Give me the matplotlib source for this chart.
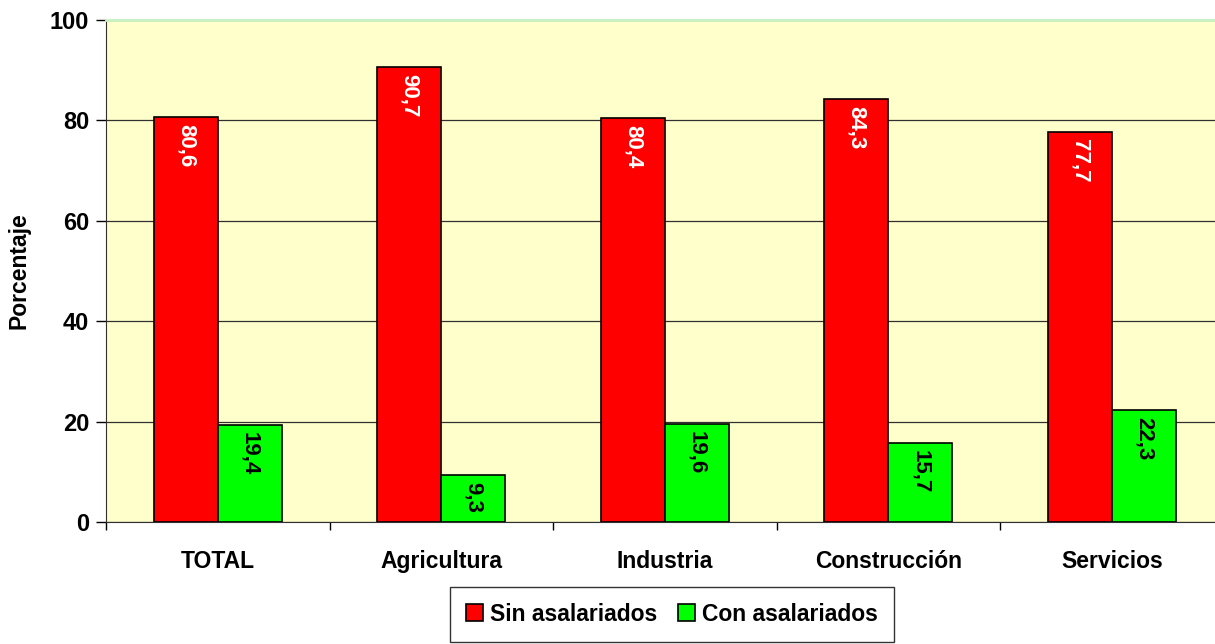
import numpy as np
import matplotlib
matplotlib.use("Agg")
import matplotlib.pyplot as plt

plt.rcParams["font.family"] = ["Liberation Sans", "DejaVu Sans"]
plt.rcParams["font.weight"] = "bold"

categories = ["TOTAL", "Agricultura", "Industria", "Construcción", "Servicios"]
sin_asal = [80.6, 90.7, 80.4, 84.3, 77.7]
con_asal = [19.4, 9.3, 19.6, 15.7, 22.3]
yticks = [0, 20, 40, 60, 80, 100]

fig = plt.figure(figsize=(12.15, 6.44), dpi=100)
ax = fig.add_axes([0.0872, 0.1894, 0.920, 0.7795])
ax.set_facecolor("#FFFFCC")

x = np.arange(len(categories))
w = 0.286
b1 = ax.bar(x - w / 2, sin_asal, w, color="#FF0000", edgecolor="black", linewidth=1.2,
            label="Sin asalariados", zorder=3)
b2 = ax.bar(x + w / 2, con_asal, w, color="#00FF00", edgecolor="black", linewidth=1.2,
            label="Con asalariados", zorder=3)

# value labels, rotated, inside top of bar
for xi, v in zip(x - w / 2, sin_asal):
    ax.annotate(f"{v:.1f}".replace(".", ","), (xi, v), xytext=(0, -5), textcoords="offset points",
                rotation=270, ha="center", va="top", color="white", fontsize=16,
                fontweight="bold", zorder=4)
for xi, v in zip(x + w / 2, con_asal):
    ax.annotate(f"{v:.1f}".replace(".", ","), (xi, v), xytext=(0, -5), textcoords="offset points",
                rotation=270, ha="center", va="top", color="black", fontsize=16,
                fontweight="bold", zorder=4)

ax.set_xlim(-0.5, len(categories) - 0.5)
ax.set_ylim(0, 100)
ax.set_yticks(yticks)
ax.set_yticklabels([str(t) for t in yticks], fontsize=17, fontweight="bold")
ax.yaxis.grid(True, color="#303030", linewidth=0.9, zorder=0)
ax.set_axisbelow(True)

ax.set_xticks(x)
ax.set_xticklabels(categories, fontsize=16.5, fontweight="bold")
ax.set_xticks(np.arange(-0.5, len(categories), 1.0), minor=True)
ax.tick_params(axis="x", which="major", length=0, pad=20)
ax.tick_params(axis="x", which="minor", length=6, width=1, direction="out")
ax.tick_params(axis="y", length=7, width=1, direction="out", pad=5)

ax.set_ylabel("Porcentaje", fontsize=16.5, fontweight="bold", labelpad=14)

ax.spines["left"].set_color("#303030")
ax.spines["bottom"].set_color("#303030")
ax.spines["top"].set_color("#C8F0C0")
ax.spines["top"].set_linewidth(2)
ax.spines["right"].set_visible(False)

leg = fig.legend(handles=[b1, b2], loc="center", bbox_to_anchor=(0.553, 0.046), ncol=2,
                 frameon=True, fancybox=False, edgecolor="black",
                 handlelength=0.75, handleheight=0.75, handletextpad=0.3, columnspacing=0.9,
                 borderpad=0.7, borderaxespad=0.3, prop={"weight": "bold", "size": 16.5})
leg.get_frame().set_linewidth(1.0)
leg._legend_box.sep = 0

fig.savefig("out.png", dpi=100)
